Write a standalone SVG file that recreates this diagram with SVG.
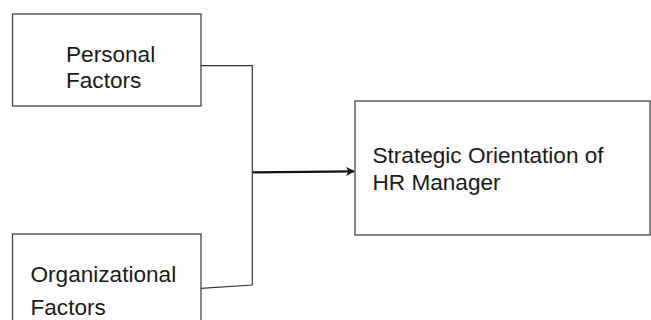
<svg xmlns="http://www.w3.org/2000/svg" width="651" height="320" viewBox="0 0 651 320">
<style>
.box{fill:#fff;stroke:#444;stroke-width:1.3}
.t{font-family:"Liberation Sans",Arial,sans-serif;font-size:22.6px;fill:#1a1a1a}
.c{fill:none;stroke:#333;stroke-width:1.2}
.a{fill:none;stroke:#111;stroke-width:2.2}
</style>
<defs>
<marker id="ah" markerWidth="9" markerHeight="9" refX="8" refY="4.5" orient="auto" markerUnits="userSpaceOnUse">
<path d="M0,0 L9,4.5 L0,9 L2.5,4.5 Z" fill="#111"/>
</marker>
</defs>
<rect width="651" height="320" fill="#fff"/>
<g id="connectors">
<polyline class="c" points="201,65.7 252.3,65.7 252.3,285 201,288.3"/>
<line class="a" x1="253" y1="172.3" x2="354" y2="171.3" marker-end="url(#ah)"/>
</g>
<g id="personal">
<rect class="box" x="12.5" y="14" width="188.5" height="92"/>
<text class="t" x="66" y="61.7">Personal</text>
<text class="t" x="66" y="88.3">Factors</text>
</g>
<g id="organizational">
<rect class="box" x="12.5" y="234" width="188.5" height="100"/>
<text class="t" x="30.5" y="282.3">Organizational</text>
<text class="t" x="30.5" y="314.5">Factors</text>
</g>
<g id="strategic">
<rect class="box" x="355" y="101" width="295" height="134"/>
<text class="t" x="372.5" y="163.3">Strategic Orientation of</text>
<text class="t" x="372.5" y="190">HR Manager</text>
</g>
</svg>
